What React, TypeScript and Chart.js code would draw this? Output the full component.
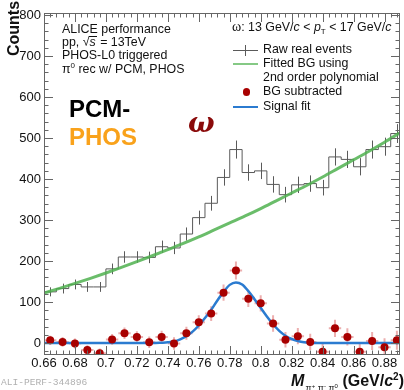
import React, { useEffect, useRef } from 'react';
import { Chart, registerables } from 'chart.js';

Chart.register(...registerables);

// ---------- data ----------
const massBins = [
  0.664, 0.672, 0.68, 0.688, 0.696, 0.704, 0.712, 0.72, 0.728, 0.736,
  0.744, 0.752, 0.76, 0.768, 0.776, 0.784, 0.792, 0.8, 0.808, 0.816,
  0.824, 0.832, 0.84, 0.848, 0.856, 0.864, 0.872, 0.88, 0.888,
];
const binWidth = 0.008;
const rawCounts = [
  125, 133, 143, 137, 137, 181, 210, 210, 209, 235,
  232, 266, 306, 341, 404, 472, 416, 420, 387, 362,
  386, 389, 379, 454, 448, 430, 472, 479, 511,
];
const statErrors = [
  11, 12, 12, 12, 12, 13, 14, 14, 14, 15,
  15, 16, 17, 18, 20, 22, 20, 20, 20, 19,
  20, 20, 19, 21, 21, 21, 22, 22, 23,
];
const bgSubtracted = [
  7, 3, -1, -17, -25, 9, 24, 15, 2, 15,
  -1, 24, 51, 72, 123, 177, 108, 97, 48, 8,
  17, 3, -21, 36, 15, -21, 5, -10, 7,
];
const bgFitMass = [
  0.66, 0.67, 0.68, 0.69, 0.7, 0.71, 0.72, 0.73, 0.74, 0.75, 0.76, 0.77,
  0.78, 0.79, 0.8, 0.81, 0.82, 0.83, 0.84, 0.85, 0.86, 0.87, 0.88, 0.89,
];
const bgFitCounts = [
  122, 133.5, 145.5, 158, 171, 184.5, 198.5, 213, 228, 243, 259, 276,
  293, 310, 328, 347, 366, 385, 405, 426, 447, 468, 490, 513,
];
const signalFitMass = [
  0.66, 0.7, 0.72, 0.73, 0.736, 0.74, 0.744, 0.748, 0.752, 0.756, 0.76, 0.764,
  0.768, 0.772, 0.776, 0.78, 0.784, 0.788, 0.792, 0.796, 0.8, 0.804, 0.808,
  0.812, 0.816, 0.82, 0.824, 0.828, 0.832, 0.84, 0.86, 0.89,
];
const signalFitCounts = [
  0, 0, 0, 0, 1, 2, 4, 9, 17, 28, 43, 61,
  81, 104, 125, 142, 148, 143, 127, 107, 86, 65, 46,
  30, 18, 10, 5, 2, 1, 0, 0, 0,
];
const xTickLabels = [0.66, 0.68, 0.7, 0.72, 0.74, 0.76, 0.78, 0.8, 0.82, 0.84, 0.86, 0.88];
const yTickLabels = [0, 100, 200, 300, 400, 500, 600, 700, 800];
const xMin = 0.66;
const xMax = 0.89;
const yMin = -29;
const yMax = 805;

const FONT = '"Liberation Sans", Arial, Helvetica, sans-serif';
const RAW_COLOR = '#5a5a5a';
const BG_COLOR = 'rgba(80,178,80,0.85)';
const SIG_COLOR = '#2b7bd0';
const RED = '#a80000';
const RED_ERR = 'rgba(205,45,45,0.38)';

// ---------- plugins ----------
const errorBars = {
  id: 'errorBars',
  beforeDatasetsDraw(chart: any) {
    const { ctx, chartArea: a, scales } = chart;
    const x = scales.x;
    const y = scales.y;
    ctx.save();
    ctx.beginPath();
    ctx.rect(a.left, a.top, a.right - a.left, a.bottom - a.top);
    ctx.clip();
    ctx.strokeStyle = RAW_COLOR;
    ctx.lineWidth = 1;
    massBins.forEach((m, i) => {
      const px = Math.round(x.getPixelForValue(m)) + 0.5;
      ctx.beginPath();
      ctx.moveTo(px, y.getPixelForValue(rawCounts[i] - statErrors[i]));
      ctx.lineTo(px, y.getPixelForValue(rawCounts[i] + statErrors[i]));
      ctx.stroke();
    });
    ctx.strokeStyle = RED_ERR;
    ctx.lineWidth = 2;
    massBins.forEach((m, i) => {
      const px = x.getPixelForValue(m);
      const py = y.getPixelForValue(bgSubtracted[i]);
      ctx.beginPath();
      ctx.moveTo(px, y.getPixelForValue(bgSubtracted[i] - statErrors[i]));
      ctx.lineTo(px, y.getPixelForValue(bgSubtracted[i] + statErrors[i]));
      ctx.moveTo(x.getPixelForValue(m - binWidth / 2), py);
      ctx.lineTo(x.getPixelForValue(m + binWidth / 2), py);
      ctx.stroke();
    });
    ctx.restore();
  },
};

const frame = {
  id: 'frame',
  afterDatasetsDraw(chart: any) {
    const { ctx, chartArea: a, scales } = chart;
    const x = scales.x;
    const y = scales.y;
    ctx.save();
    ctx.strokeStyle = '#666';
    ctx.lineWidth = 1;
    ctx.strokeRect(a.left + 0.5, a.top + 0.5, a.right - a.left - 1, a.bottom - a.top - 1);
    ctx.beginPath();
    const xMinorStep = (xTickLabels[1] - xTickLabels[0]) / 5;
    for (let k = 0; ; k++) {
      const v = xTickLabels[0] + k * xMinorStep;
      if (v > xMax + 1e-9) break;
      const major = k % 5 === 0;
      const len = major ? 9 : 4.5;
      const px = Math.round(x.getPixelForValue(v)) + 0.5;
      ctx.moveTo(px, a.bottom);
      ctx.lineTo(px, a.bottom - len);
      ctx.moveTo(px, a.top);
      ctx.lineTo(px, a.top + len);
    }
    const yMinorStep = (yTickLabels[1] - yTickLabels[0]) / 5;
    for (let k = -2; ; k++) {
      const v = yTickLabels[0] + k * yMinorStep;
      if (v > yMax) break;
      if (v < yMin) continue;
      const major = ((k % 5) + 5) % 5 === 0;
      const len = major ? 9 : 4.5;
      const py = Math.round(y.getPixelForValue(v)) + 0.5;
      ctx.moveTo(a.left, py);
      ctx.lineTo(a.left + len, py);
      ctx.moveTo(a.right, py);
      ctx.lineTo(a.right - len, py);
    }
    ctx.stroke();
    ctx.restore();
  },
};

// ---------- text helper ----------
function Txt(props: { x?: number; right?: number; baseline: number; size: number; style?: any; children: any }) {
  const { x, right, baseline, size, style, children } = props;
  const pos: any = { position: 'absolute', top: baseline - 0.8465 * size };
  if (right !== undefined) pos.right = right;
  else pos.left = x;
  return (
    <div
      style={{
        ...pos,
        fontFamily: FONT,
        fontSize: size,
        lineHeight: `${size}px`,
        whiteSpace: 'nowrap',
        color: '#111',
        ...style,
      }}
    >
      {children}
    </div>
  );
}

const sup = (t: string, size = 8, dy = -5) => (
  <span style={{ fontSize: size, position: 'relative', top: dy }}>{t}</span>
);

export default function App() {
  const canvasRef = useRef<HTMLCanvasElement | null>(null);

  useEffect(() => {
    const canvas = canvasRef.current;
    if (!canvas) return;
    const stepData = massBins.map((m, i) => ({ x: m - binWidth / 2, y: rawCounts[i] }));
    stepData.push({ x: massBins[massBins.length - 1] + binWidth / 2, y: rawCounts[rawCounts.length - 1] });

    const chart = new Chart(canvas, {
      type: 'scatter',
      data: {
        datasets: [
          {
            label: 'BG subtracted',
            data: massBins.map((m, i) => ({ x: m, y: bgSubtracted[i] })),
            pointRadius: 4,
            pointBackgroundColor: RED,
            pointBorderWidth: 0,
            showLine: false,
            order: 1,
          },
          {
            label: 'Signal fit',
            data: signalFitMass.map((m, i) => ({ x: m, y: signalFitCounts[i] })),
            showLine: true,
            borderColor: SIG_COLOR,
            borderWidth: 2.5,
            pointRadius: 0,
            cubicInterpolationMode: 'monotone',
            order: 2,
          },
          {
            label: 'Fitted BG',
            data: bgFitMass.map((m, i) => ({ x: m, y: bgFitCounts[i] })),
            showLine: true,
            borderColor: BG_COLOR,
            borderWidth: 3,
            pointRadius: 0,
            cubicInterpolationMode: 'monotone',
            order: 3,
          },
          {
            label: 'Raw real events',
            data: stepData,
            showLine: true,
            stepped: 'before',
            borderColor: RAW_COLOR,
            borderWidth: 1,
            pointRadius: 0,
            order: 4,
          },
        ] as any,
      },
      options: {
        animation: false,
        responsive: false,
        devicePixelRatio: 1,
        events: [],
        layout: { padding: { top: 13, right: 0, left: 0, bottom: 0 } },
        plugins: { legend: { display: false }, tooltip: { enabled: false } },
        scales: {
          x: {
            type: 'linear',
            min: xMin,
            max: xMax,
            grid: { display: false, drawTicks: false },
            border: { display: false },
            ticks: {
              color: '#111',
              font: { family: FONT, size: 13 },
              padding: 1,
              autoSkip: false,
              maxRotation: 0,
              callback: (v: any) => String(parseFloat(Number(v).toFixed(2))),
            },
            afterBuildTicks: (s: any) => {
              s.ticks = xTickLabels.map((v) => ({ value: v }));
            },
            afterFit: (s: any) => {
              s.height = 35;
            },
          },
          y: {
            type: 'linear',
            min: yMin,
            max: yMax,
            grid: { display: false, drawTicks: false },
            border: { display: false },
            ticks: {
              color: '#111',
              font: { family: FONT, size: 13 },
              padding: 3,
              autoSkip: false,
              callback: (v: any) => String(v),
            },
            afterBuildTicks: (s: any) => {
              s.ticks = yTickLabels.map((v) => ({ value: v }));
            },
            afterFit: (s: any) => {
              s.width = 44;
            },
          },
        },
      } as any,
      plugins: [errorBars, frame],
    });
    return () => chart.destroy();
  }, []);

  return (
    <div style={{ position: 'fixed', left: 0, top: 0, width: 404, height: 390, background: '#fff', overflow: 'hidden' }}>
      <canvas ref={canvasRef} width={404} height={390} style={{ position: 'absolute', left: 0, top: 0, width: 404, height: 390 }} />

      {/* y axis title */}
      <div
        style={{
          position: 'absolute',
          left: 5,
          top: 56,
          transform: 'rotate(-90deg)',
          transformOrigin: 'top left',
          fontFamily: FONT,
          fontWeight: 'bold',
          fontSize: 16,
          lineHeight: '17px',
          whiteSpace: 'nowrap',
          color: '#111',
        }}
      >
        Counts
      </div>

      {/* x axis title */}
      <Txt right={0} baseline={387} size={16} style={{ fontWeight: 'bold' }}>
        <i>M</i>
        <span style={{ fontSize: 9, fontWeight: 'normal', position: 'relative', top: 5, marginLeft: 1 }}>
          π{sup('+', 6, -3)} π{sup('-', 6, -3)} π{sup('0', 6, -3)}
        </span>{' '}
        (GeV/<i>c</i>
        {sup('2', 10, -6)})
      </Txt>

      {/* top-left text */}
      <Txt x={62} baseline={33.3} size={12.4}>ALICE performance</Txt>
      <Txt x={62} baseline={46.6} size={12.4}>
        pp, √
        <span
          style={{
            fontStyle: 'italic',
            display: 'inline-block',
            lineHeight: '10px',
            borderTop: '1px solid #111',
            paddingRight: 1,
          }}
        >
          s
        </span>{' '}
        = 13TeV
      </Txt>
      <Txt x={62} baseline={59.9} size={12.4}>PHOS-L0 triggered</Txt>
      <Txt x={62} baseline={73.2} size={12.4}>
        π{sup('0', 8, -5)} rec w/ PCM, PHOS
      </Txt>

      <Txt x={69} baseline={117} size={24} style={{ fontWeight: 'bold', color: '#000' }}>PCM-</Txt>
      <Txt x={69} baseline={145} size={24} style={{ fontWeight: 'bold', color: '#f9a21b' }}>PHOS</Txt>
      <Txt
        x={188}
        baseline={133}
        size={28}
        style={{ fontFamily: '"DejaVu Serif", serif', fontStyle: 'italic', fontWeight: 'bold', color: '#8a0a0a' }}
      >
        ω
      </Txt>

      {/* legend */}
      <Txt x={232} baseline={31.7} size={12.4}>
        <span style={{ fontFamily: '"Liberation Serif", serif', fontSize: 14 }}>ω</span>: 13 GeV/<i>c</i> &lt; <i>p</i>
        <span style={{ fontSize: 8, position: 'relative', top: 3 }}>T</span> &lt; 17 GeV/<i>c</i>
      </Txt>
      <div style={{ position: 'absolute', left: 233, top: 50, width: 25, height: 1, background: RAW_COLOR }} />
      <div style={{ position: 'absolute', left: 245, top: 45, width: 1, height: 11, background: RAW_COLOR }} />
      <Txt x={263} baseline={53.6} size={12.4}>Raw real events</Txt>
      <div style={{ position: 'absolute', left: 233, top: 62.5, width: 25, height: 2, background: 'rgba(120,195,120,0.9)' }} />
      <Txt x={263} baseline={67.5} size={12.4}>Fitted BG using</Txt>
      <Txt x={263} baseline={81.7} size={12.4}>2nd order polynomial</Txt>
      <div style={{ position: 'absolute', left: 242.5, top: 88, width: 7.5, height: 7.5, borderRadius: '50%', background: RED }} />
      <Txt x={263} baseline={95.9} size={12.4}>BG subtracted</Txt>
      <div style={{ position: 'absolute', left: 233, top: 106, width: 25, height: 2, background: SIG_COLOR }} />
      <Txt x={263} baseline={110.1} size={12.4}>Signal fit</Txt>

      {/* footer */}
      <Txt x={1} baseline={386} size={9.6} style={{ fontFamily: '"Liberation Mono", monospace', color: '#b0b0b0' }}>
        ALI-PERF-344896
      </Txt>
    </div>
  );
}
